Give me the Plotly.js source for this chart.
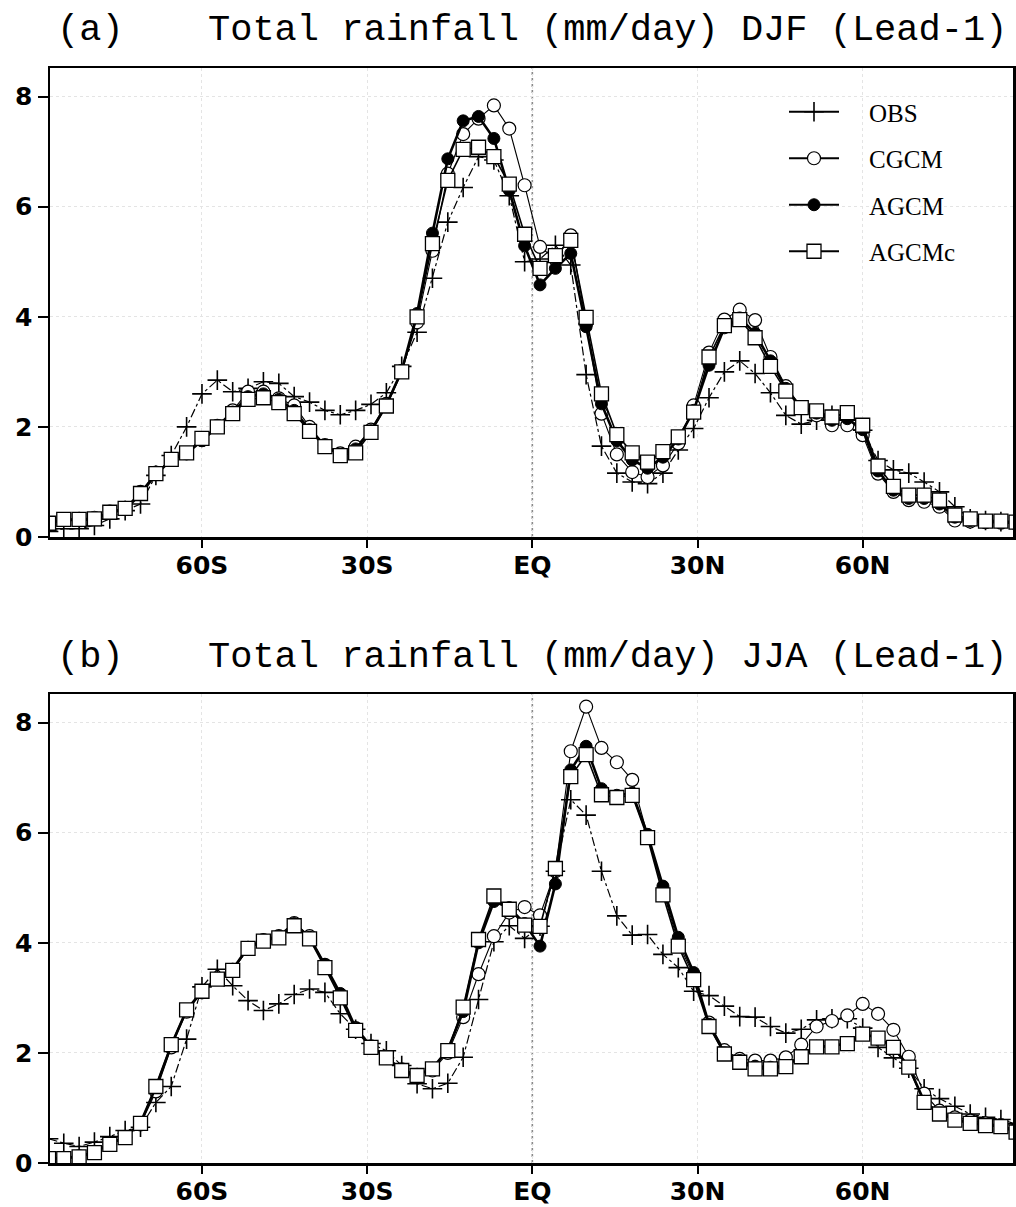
<!DOCTYPE html>
<html>
<head>
<meta charset="utf-8">
<script src="https://cdn.plot.ly/plotly-3.0.1.min.js"></script>
<style>
html,body{margin:0;padding:0;background:#fff;}
#chart{width:1016px;height:1207px;}
</style>
</head>
<body>
<div id="chart"></div>
<script>
// Gaussian-grid latitudes (T42)
const lat = [-87.86,-85.10,-82.31,-79.53,-76.74,-73.95,-71.16,-68.37,-65.58,-62.79,
  -60.00,-57.21,-54.42,-51.63,-48.84,-46.04,-43.25,-40.46,-37.67,-34.88,
  -32.09,-29.30,-26.51,-23.72,-20.93,-18.14,-15.35,-12.56,-9.77,-6.98,
  -4.19,-1.40,1.40,4.19,6.98,9.77,12.56,15.35,18.14,20.93,
  23.72,26.51,29.30,32.09,34.88,37.67,40.46,43.25,46.04,48.84,
  51.63,54.42,57.21,60.00,62.79,65.58,68.37,71.16,73.95,76.74,
  79.53,82.31,85.10,87.86];

const seriesNames = ['OBS','CGCM','AGCM','AGCMc'];

// (a) DJF
const djfOBS = [0.10,0.15,0.15,0.21,0.33,0.48,0.60,1.12,1.48,2.00,
 2.60,2.85,2.64,2.70,2.82,2.79,2.55,2.45,2.30,2.22,
 2.30,2.41,2.62,3.10,3.72,4.70,5.72,6.35,6.91,6.85,
 6.20,5.00,5.05,5.30,4.94,2.95,1.65,1.16,1.00,0.97,
 1.16,1.58,1.97,2.53,3.00,3.20,2.97,2.62,2.21,2.05,
 2.12,2.21,2.12,1.94,1.39,1.22,1.16,1.00,0.82,0.55,
 0.33,0.30,0.28,0.27];
const djfCGCM = [0.25,0.32,0.33,0.35,0.46,0.53,0.82,1.17,1.40,1.52,
 1.76,2.02,2.30,2.64,2.64,2.52,2.39,2.00,1.67,1.52,
 1.64,1.95,2.42,3.02,3.90,5.20,6.60,7.32,7.60,7.84,
 7.42,6.39,5.27,5.05,5.48,3.88,2.24,1.50,1.18,1.09,
 1.30,1.70,2.39,3.35,3.95,4.13,3.94,3.27,2.74,2.35,
 2.21,2.03,2.03,1.85,1.15,0.82,0.67,0.64,0.55,0.30,
 0.28,0.27,0.26,0.25];
const djfAGCM = [0.25,0.31,0.31,0.32,0.44,0.50,0.78,1.14,1.40,1.52,
 1.75,2.00,2.27,2.55,2.60,2.50,2.30,1.95,1.66,1.50,
 1.60,1.93,2.40,3.02,4.06,5.52,6.87,7.56,7.64,7.24,
 6.30,5.29,4.58,4.88,5.15,3.82,2.42,1.75,1.40,1.25,
 1.45,1.78,2.30,3.12,3.80,3.98,3.70,3.20,2.70,2.35,
 2.25,2.12,2.15,1.95,1.20,0.85,0.70,0.70,0.60,0.36,
 0.30,0.27,0.27,0.25];
const djfAGCMc = [0.25,0.32,0.32,0.33,0.45,0.52,0.79,1.15,1.41,1.53,
 1.79,2.00,2.24,2.50,2.53,2.44,2.24,1.92,1.64,1.48,
 1.53,1.90,2.38,3.00,4.00,5.33,6.48,7.04,7.08,6.91,
 6.41,5.50,4.88,5.11,5.39,3.99,2.60,1.86,1.53,1.36,
 1.55,1.82,2.27,3.27,3.84,3.95,3.62,3.10,2.65,2.35,
 2.29,2.18,2.26,2.03,1.29,0.92,0.76,0.76,0.67,0.40,
 0.33,0.29,0.29,0.27];

// (b) JJA
const jjaOBS = [0.44,0.36,0.30,0.38,0.48,0.59,0.65,1.10,1.39,2.25,
 3.20,3.52,3.22,2.95,2.77,2.89,3.06,3.16,3.10,2.71,
 2.43,2.17,2.04,1.77,1.44,1.35,1.45,1.92,2.97,4.02,
 4.31,4.08,4.30,5.30,6.60,6.32,5.30,4.49,4.14,4.15,
 3.79,3.55,3.12,3.04,2.85,2.66,2.65,2.48,2.36,2.43,
 2.60,2.62,2.62,2.45,2.10,1.91,1.72,1.35,1.17,1.03,
 0.89,0.83,0.79,0.71];
const jjaCGCM = [0.08,0.09,0.12,0.20,0.35,0.47,0.70,1.30,2.10,2.75,
 3.10,3.35,3.50,3.90,4.05,4.12,4.36,4.12,3.60,3.05,
 2.45,2.12,1.92,1.70,1.60,1.68,2.00,2.65,3.43,4.12,
 4.55,4.65,4.50,5.30,7.48,8.29,7.54,7.28,6.96,5.95,
 4.95,4.00,3.40,2.55,2.05,1.89,1.86,1.86,1.92,2.15,
 2.48,2.58,2.68,2.89,2.71,2.42,1.93,1.26,0.95,0.83,
 0.77,0.72,0.69,0.60];
const jjaAGCM = [0.08,0.09,0.12,0.20,0.35,0.47,0.73,1.38,2.14,2.78,
 3.12,3.35,3.52,3.92,4.05,4.12,4.35,4.10,3.60,3.08,
 2.45,2.12,1.92,1.69,1.60,1.72,2.06,2.75,4.00,4.75,
 4.64,4.35,3.94,5.07,7.14,7.57,6.80,6.68,6.72,5.97,
 5.03,4.10,3.46,2.52,2.00,1.86,1.76,1.74,1.77,1.95,
 2.12,2.12,2.18,2.34,2.28,2.10,1.75,1.12,0.90,0.79,
 0.73,0.69,0.67,0.57];
const jjaAGCMc = [0.08,0.08,0.11,0.19,0.34,0.46,0.72,1.39,2.15,2.78,
 3.12,3.34,3.50,3.90,4.03,4.09,4.31,4.07,3.55,3.00,
 2.41,2.10,1.91,1.68,1.59,1.71,2.04,2.83,4.06,4.85,
 4.61,4.32,4.30,5.35,7.02,7.42,6.69,6.64,6.68,5.91,
 4.87,3.94,3.33,2.48,1.98,1.83,1.71,1.71,1.75,1.93,
 2.11,2.11,2.17,2.34,2.27,2.10,1.74,1.10,0.89,0.78,
 0.72,0.68,0.66,0.56];

const xTickVals = [-60,-30,0,30,60];
const xTickText = ['60S','30S','EQ','30N','60N'];
const yTickVals = [0,2,4,6,8];
const panelLabels = ['(a)','(b)'];
const panelTitles = ['Total rainfall (mm/day) DJF (Lead-1)','Total rainfall (mm/day) JJA (Lead-1)'];

const styles = {
  OBS:   {line:{color:'#000',width:1.2,dash:'dashdot'}, marker:{symbol:'cross-thin-open',size:14,color:'#000',line:{color:'#000',width:1.6}}},
  CGCM:  {line:{color:'#000',width:1.1}, marker:{symbol:'circle',size:13,color:'#fff',line:{color:'#000',width:1.2}}},
  AGCM:  {line:{color:'#000',width:2.6}, marker:{symbol:'circle',size:12,color:'#000',line:{color:'#000',width:1}}},
  AGCMc: {line:{color:'#000',width:1.6}, marker:{symbol:'square',size:14,color:'#fff',line:{color:'#000',width:1.3}}}
};

const panels = [
  {xa:'x', ya:'y', data:{OBS:djfOBS, CGCM:djfCGCM, AGCM:djfAGCM, AGCMc:djfAGCMc}},
  {xa:'x2', ya:'y2', data:{OBS:jjaOBS, CGCM:jjaCGCM, AGCM:jjaAGCM, AGCMc:jjaAGCMc}}
];

const traces = [];
panels.forEach(p => {
  seriesNames.forEach(n => {
    traces.push({
      type:'scatter', mode:'lines+markers', name:n,
      x: lat, y: p.data[n], xaxis:p.xa, yaxis:p.ya,
      line: styles[n].line, marker: styles[n].marker,
      legendgroup:n, showlegend:false, cliponaxis:true
    });
  });
});
// legend entries (solid sample lines, as in the reference key)
const pad = '\u00a0\u00a0\u00a0\u00a0';
seriesNames.forEach(n => {
  traces.push({
    type:'scatter', mode:'lines+markers', name:pad + n, x:[null], y:[null], xaxis:'x', yaxis:'y',
    line:{color:'#000', width:2.2}, marker: styles[n].marker, legendgroup:n, showlegend:true
  });
});

const H = 1207, W = 1016, L = 50, R = 3, PW = W - L - R;
const px2paperX = px => (px - L) / PW;
const tickFont = {family:'DejaVu Sans', size:25, color:'#000', weight:'bold'};
function xAx(anchor){
  return {anchor:anchor, range:[-87.6,87.3], tickvals:xTickVals, ticktext:xTickText,
    ticks:'outside', ticklen:8, tickwidth:2, tickcolor:'#000', ticklabelstandoff:-4,
    showline:true, mirror:true, linecolor:'#000', linewidth:2.5,
    showgrid:true, gridcolor:'#e4e4e4', griddash:'dot', gridwidth:1,
    zeroline:false, tickfont:tickFont, fixedrange:true};
}
function yAx(anchor, dom){
  return {anchor:anchor, domain:dom, range:[0,8.52], tickvals:yTickVals,
    ticks:'outside', ticklen:10, tickwidth:2, tickcolor:'#000',
    showline:true, mirror:true, linecolor:'#000', linewidth:2.5,
    showgrid:true, gridcolor:'#e4e4e4', griddash:'dot', gridwidth:1,
    zeroline:false, tickfont:tickFont, fixedrange:true};
}

const titleFont = {family:'Liberation Mono', size:37, color:'#000'};
const annotations = [];
[30, 657].forEach((yc, i) => {
  annotations.push({xref:'paper', yref:'paper', x:px2paperX(55), y:1-yc/H, xanchor:'left', yanchor:'middle',
    text:panelLabels[i], showarrow:false, font:titleFont});
  annotations.push({xref:'paper', yref:'paper', x:px2paperX(1009), y:1-yc/H, xanchor:'right', yanchor:'middle',
    text:panelTitles[i], showarrow:false, font:titleFont});
});

const shapes = [
  {type:'line', xref:'x', yref:'y domain', x0:0, x1:0, y0:0, y1:1, layer:'below', line:{color:'#8a8a8a', width:1.6, dash:'dot'}},
  {type:'line', xref:'x2', yref:'y2 domain', x0:0, x1:0, y0:0, y1:1, layer:'below', line:{color:'#8a8a8a', width:1.6, dash:'dot'}}
];

const layout = {
  width:W, height:H, paper_bgcolor:'#fff', plot_bgcolor:'#fff',
  margin:{l:L, r:R, t:0, b:0},
  xaxis: xAx('y'), yaxis: yAx('x', [1-537/H, 1-68/H]),
  xaxis2: xAx('y2'), yaxis2: yAx('x2', [1-1163/H, 1-694/H]),
  showlegend:true,
  legend:{x:px2paperX(784), y:1-89/H, xanchor:'left', yanchor:'top', bgcolor:'rgba(0,0,0,0)',
    font:{family:'Liberation Serif', size:25, color:'#000'}, tracegroupgap:11, itemwidth:50},
  annotations:annotations, shapes:shapes
};

Plotly.newPlot('chart', traces, layout, {displayModeBar:false, staticPlot:true});
</script>
</body>
</html>
